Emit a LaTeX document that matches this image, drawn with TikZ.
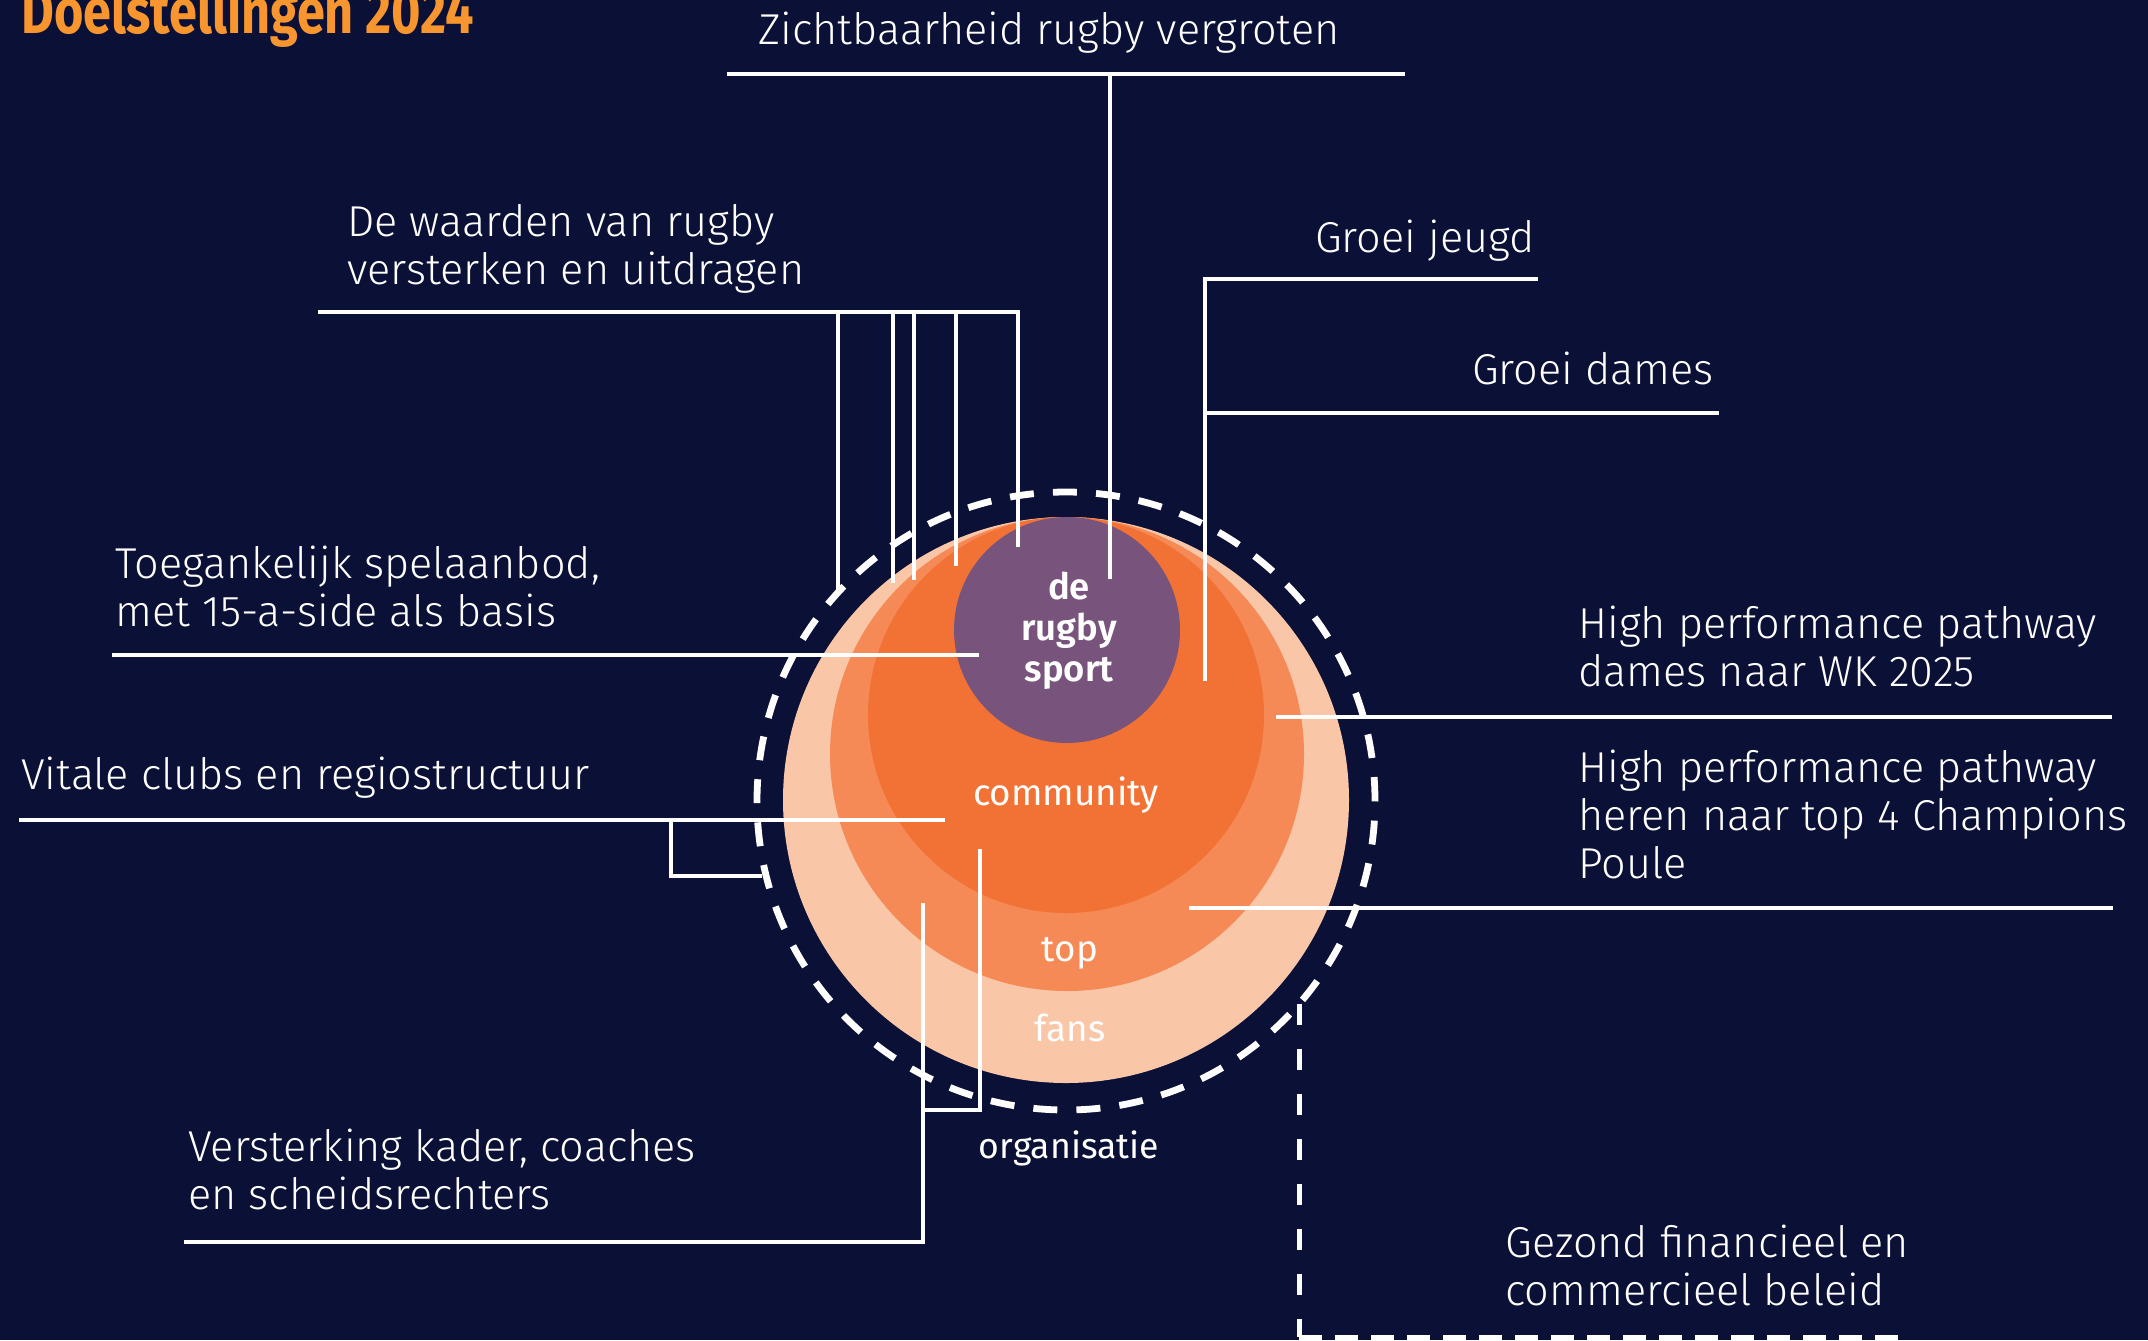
\documentclass[tikz,border=0pt]{standalone}
\usepackage{fontspec}
\setmainfont{Fira Sans Light}
\newfontfamily\medfont{Fira Sans}
\newfontfamily\semifont{Fira Sans SemiBold}
\newfontfamily\titlefont[FakeStretch=0.8]{Fira Sans Bold}
\usepackage{xcolor}
\definecolor{cbg}{RGB}{11,16,54}
\definecolor{cfans}{RGB}{249,198,168}
\definecolor{ctop}{RGB}{245,138,87}
\definecolor{ccomm}{RGB}{242,114,54}
\definecolor{csport}{RGB}{120,84,125}
\definecolor{ctitle}{RGB}{247,149,46}

\begin{document}
\begin{tikzpicture}[x=0.5pt, y=-0.5pt,
	lbl/.style={anchor=base west, inner sep=0pt, text=white, align=left, font=\fontsize{21.6}{24}\selectfont},
	inlbl/.style={anchor=base, inner sep=0pt, text=white, font=\medfont\fontsize{18.4}{20.5}\selectfont},
	disc/.style={circle, inner sep=0pt, outer sep=0pt},
	leader/.style={draw=white, line width=1.6pt}]
		\def\W{2148}
		\def\H{1340}
		\fill[cbg] (0,0) rectangle (\W,\H);
		\clip (0,0) rectangle (\W,\H);

		% Circles
		\node[disc, fill=cfans, minimum size=283pt] (fansdisc) at (1066,800) {};
		\node[disc, fill=ctop, minimum size=237pt] (topdisc) at (1067,754) {};
		\node[disc, fill=ccomm, minimum size=198pt] (commdisc) at (1066,715) {};
		\node[disc, fill=csport, minimum size=113pt] (sportdisc) at (1067,630) {};
		\node[disc, draw=white, line width=3.4pt, dash pattern=on 12pt off 9.57pt, minimum size=309pt] (ring) at (1066,801) {};

		% Circle labels
		\node[inlbl, font=\semifont\fontsize{18.2}{20.5}\selectfont, align=center, anchor=center] (sportlbl) at (1069,631) {de\\rugby\\sport};
		\node[inlbl] (commlbl) at (1066,805) {community};
		\node[inlbl] (toplbl) at (1070,961) {top};
		\node[inlbl] (fanslbl) at (1070,1041) {fans};
		\node[inlbl, font=\medfont\fontsize{17.8}{20.5}\selectfont] (orglbl) at (1069,1158) {organisatie};

		% Title
		\node[anchor=base west, inner sep=0pt, text=ctitle, font=\titlefont\fontsize{31.5}{31.5}\selectfont] (title) at (21,33) {Doelstellingen 2024};

		% Labels (multi-line ones sit on their last line)
		\node[lbl] (zicht) at (758,44) {Zichtbaarheid rugby vergroten};
		\node[lbl] (waarden) at (347,284) {De waarden van rugby\\versterken en uitdragen};
		\node[lbl, anchor=base east] (jeugd) at (1535,252) {Groei jeugd};
		\node[lbl, anchor=base east] (dames) at (1714,384) {Groei dames};
		\node[lbl] (toeg) at (115,626) {Toegankelijk spelaanbod,\\met 15-a-side als basis};
		\node[lbl] (vitale) at (21,789) {Vitale clubs en regiostructuur};
		\node[lbl] (kader) at (188,1209) {Versterking kader, coaches\\en scheidsrechters};
		\node[lbl] (hpdames) at (1578,686) {High performance pathway\\dames naar WK 2025};
		\node[lbl] (hpheren) at (1578,878) {High performance pathway\\heren naar top 4 Champions\\Poule};
		\node[lbl] (gezond) at (1505,1305) {Gezond financieel en\\commercieel beleid};

		% Leader lines
		\coordinate (zichtL) at (727,74);
		\coordinate (zichtR) at (1405,74);
		\coordinate (zichtE) at (1110,579);
		\draw[leader] (zichtL) -- (zichtR);
		\draw[leader] (zichtE |- zichtL) -- (zichtE);

		\coordinate (waardenL) at (318,312);
		\coordinate (waardenR) at (1018,312);
		\coordinate (waardenE) at (1018,547);
		\draw[leader] (waardenL) -- (waardenR) -- (waardenE);
		\foreach \n/\x/\y in {a/838/590, b/893/583, c/914/580, d/956/566} {
			\coordinate (w\n) at (\x,\y);
			\draw[leader] (w\n |- waardenL) -- (w\n);
		}

		\coordinate (jeugdR) at (1538,279);
		\coordinate (jeugdE) at (1205,681);
		\coordinate (damesR) at (1719,413);
		\draw[leader] (jeugdR) -- (jeugdE |- jeugdR) -- (jeugdE);
		\draw[leader] (jeugdE |- damesR) -- (damesR);

		\coordinate (toegL) at (112,655);
		\coordinate (toegE) at (979,655);
		\draw[leader] (toegL) -- (toegE);

		\coordinate (vitaleL) at (19,820);
		\coordinate (vitaleE) at (945,820);
		\coordinate (vitaleK) at (671,876);
		\coordinate (vitaleF) at (762,876);
		\draw[leader] (vitaleL) -- (vitaleE);
		\draw[leader] (vitaleK |- vitaleL) -- (vitaleK) -- (vitaleF);

		\coordinate (kaderL) at (184,1242);
		\coordinate (kaderE) at (923,903);
		\coordinate (kaderM) at (923,1110);
		\coordinate (kaderF) at (980,849);
		\draw[leader] (kaderL) -- (kaderE |- kaderL) -- (kaderE);
		\draw[leader] (kaderM) -- (kaderM -| kaderF) -- (kaderF);

		\coordinate (hpdamesE) at (1276,717);
		\coordinate (hpdamesR) at (2112,717);
		\draw[leader] (hpdamesE) -- (hpdamesR);
		\coordinate (hpherenE) at (1189,908);
		\coordinate (hpherenR) at (2113,908);
		\draw[leader] (hpherenE) -- (hpherenR);

		% Dashed link
		\coordinate (gezondR) at (1904,1337);
		\draw[white, line width=2.5pt, dash pattern=on 10.5pt off 12pt] (ring.-41.3) -- (ring.-41.3 |- gezondR);
		\draw[white, line width=2.5pt, dash pattern=on 11.5pt off 6.5pt] (ring.-41.3 |- gezondR) -- (gezondR);
\end{tikzpicture}
\end{document}
